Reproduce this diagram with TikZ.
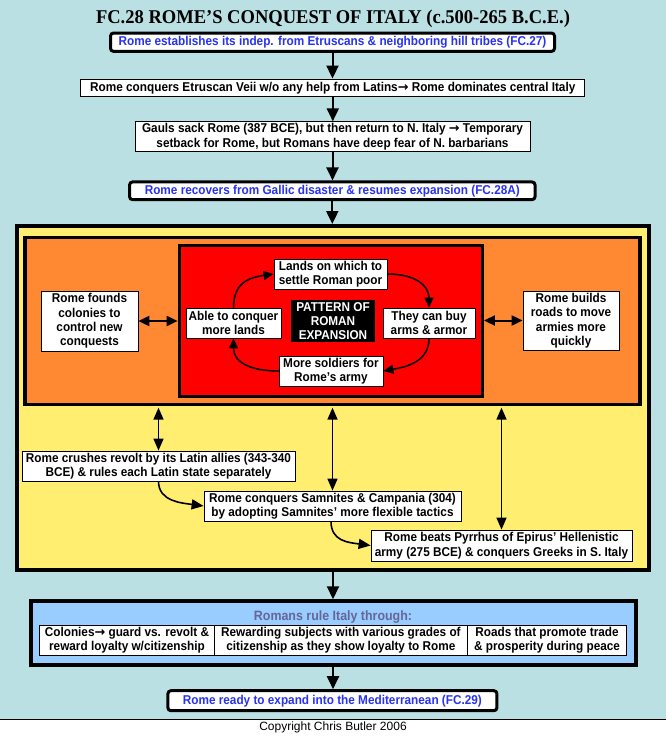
\documentclass[tikz,border=0pt]{standalone}
\usepackage{fontspec}
\setmainfont{Liberation Sans}[FakeStretch=0.92]
\newfontfamily\plainfont{Liberation Sans}
\newfontfamily\titlefont{Liberation Serif}[FakeStretch=0.95]
\newfontfamily\arrfont{DejaVu Sans}
\newcommand{\rarrow}{{\arrfont\bfseries →}}
\usetikzlibrary{arrows.meta}
\definecolor{bgblue}{RGB}{186,224,227}
\definecolor{yel}{RGB}{255,238,112}
\definecolor{ora}{RGB}{255,136,51}
\definecolor{lblue}{RGB}{153,204,255}
\definecolor{txtblue}{RGB}{40,50,240}
\definecolor{purp}{RGB}{102,102,150}
\begin{document}
\begin{tikzpicture}[x=1pt,y=-1pt,
  every node/.style={font=\fontsize{12.8}{14.4}\selectfont\bfseries, align=center, inner sep=0pt},
  plainbox/.style={draw, fill=white, line width=0.8pt},
  roundbox/.style={draw, fill=white, line width=3pt, rounded corners=3pt, text=txtblue},
  frame/.style={draw, line width=3.3pt},
  bigarrow/.style={line width=2pt, -{Triangle[length=13pt,width=12pt]}},
  dblarrow/.style={line width=1.6pt, {Triangle[length=12pt,width=10pt]}-{Triangle[length=12pt,width=10pt]}},
  sidearrow/.style={line width=2pt, {Triangle[length=11pt,width=10pt]}-{Triangle[length=11pt,width=10pt]}},
  cycarrow/.style={line width=1.5pt, -{Triangle[length=10pt,width=9pt]}},
  curvarrow/.style={line width=1.6pt, -{Triangle[length=12pt,width=10pt]}}
]
\useasboundingbox (0,0) rectangle (666,736);
\fill[white] (0,0) rectangle (666,736);
\fill[bgblue] (0,0) rectangle (666,719);
\draw[line width=1pt] (0,719) -- (666,719);

% title
\node[font=\fontsize{19.5}{20}\titlefont\bfseries, anchor=base] (title) at (333,23.5) {FC.28 ROME’S CONQUEST OF ITALY (c.500-265 B.C.E.)};

% top chain
\node[roundbox, minimum width=444pt, minimum height=18.3pt] (b1) at (332.5,42.2) {Rome establishes its indep. from Etruscans \& neighboring hill tribes (FC.27)};
\node[plainbox, minimum width=504pt, minimum height=17.7pt] (b2) at (332.8,87.8) {Rome conquers Etruscan Veii w/o any help from Latins\rarrow{} Rome dominates central Italy};
\node[plainbox, minimum width=395pt, minimum height=30pt] (b3) at (332.5,136.7) {Gauls sack Rome (387 BCE), but then return to N. Italy \rarrow{} Temporary\\ setback for Rome, but Romans have deep fear of N. barbarians};
\node[roundbox, minimum width=405.5pt, minimum height=17.7pt] (b4) at (332.3,190.8) {Rome recovers from Gallic disaster \& resumes expansion (FC.28A)};

% frames
\node[draw, line width=4pt, fill=yel, minimum width=632pt, minimum height=344pt] (yellow) at (333,398) {};
\node[frame, fill=ora, minimum width=615pt, minimum height=167pt] (orange) at (332.5,321) {};
\node[frame, fill=red, minimum width=303pt, minimum height=150.6pt] (red) at (330.8,321) {};

% cycle
\node[plainbox, minimum width=113pt, minimum height=30pt] (lands) at (330.5,274) {Lands on which to\\ settle Roman poor};
\node[plainbox, minimum width=92pt, minimum height=30pt] (they) at (429,323) {They can buy\\ arms \& armor};
\node[plainbox, minimum width=104pt, minimum height=30pt] (more) at (331,371) {More soldiers for\\ Rome’s army};
\node[plainbox, minimum width=95pt, minimum height=30pt] (able) at (233.5,323) {Able to conquer\\ more lands};
\node[fill=black, text=white, minimum width=84pt, minimum height=42pt] (pattern) at (333,321) {PATTERN OF\\ ROMAN\\ EXPANSION};

\draw[cycarrow] (able.north) .. controls +(0,-28) and +(-20,3) .. (lands.west);
\draw[cycarrow] (lands.east) .. controls +(28,0) and +(0,-22) .. (they.north);
\draw[cycarrow] (they.south) .. controls +(0,24) and +(22,-4) .. (more.east);
\draw[cycarrow] (more.west) .. controls +(-28,0) and +(0,24) .. (able.south);

% side boxes
\node[plainbox, minimum width=97pt, minimum height=60pt] (colonies) at (89.5,321) {Rome founds\\ colonies to\\ control new\\ conquests};
\node[plainbox, minimum width=96pt, minimum height=59pt] (roads) at (571,320.5) {Rome builds\\ roads to move\\ armies more\\ quickly};
\draw[sidearrow] (colonies.east) -- (colonies.east -| red.west);
\draw[sidearrow] (roads.west -| red.east) -- (roads.west);

% lower yellow boxes
\node[plainbox, minimum width=273pt, minimum height=30pt] (latin) at (158.5,466) {Rome crushes revolt by its Latin allies (343-340\\ BCE) \& rules each Latin state separately};
\node[plainbox, minimum width=257pt, minimum height=30pt] (samn) at (332.5,506) {Rome conquers Samnites \& Campania (304)\\ by adopting Samnites’ more flexible tactics};
\node[plainbox, minimum width=261pt, minimum height=31pt] (pyrr) at (501.5,545.5) {Rome beats Pyrrhus of Epirus’ Hellenistic\\ army (275 BCE) \& conquers Greeks in S. Italy};

\draw[dblarrow, shorten <=1.5pt] (latin.north |- orange.south) -- (latin.north);
\draw[dblarrow, shorten <=1.5pt] (samn.north |- orange.south) -- (samn.north);
\draw[dblarrow, shorten <=1.5pt] (pyrr.north |- orange.south) -- (pyrr.north);
\draw[curvarrow] (latin.south) .. controls +(0,20) and +(-22,-3) .. (samn.west);
\draw[curvarrow] ([xshift=-1.5pt]samn.south) .. controls +(0,20) and +(-22,-3) .. (pyrr.west);

% top arrows
\draw[bigarrow] (b1.south) -- (b1.south |- b2.north);
\draw[bigarrow] (b2.south) -- (b2.south |- b3.north);
\draw[bigarrow] (b3.south) -- (b3.south |- b4.north);
\draw[bigarrow] (b4.south) -- (b4.south |- yellow.north);

% bottom
\node[draw, line width=3.5pt, fill=lblue, minimum width=605pt, minimum height=64pt] (blue) at (333.5,633) {};
\node[text=purp, font=\fontsize{13.5}{15}\selectfont\bfseries] (rule) at (333,617.5) {Romans rule Italy through:};
\node[plainbox, minimum width=175pt, minimum height=30.7pt] (c1) at (127,640.3) {Colonies\rarrow{} guard vs. revolt \&\\ reward loyalty w/citizenship};
\node[plainbox, minimum width=252.8pt, minimum height=30.7pt] (c2) at (340.9,640.3) {Rewarding subjects with various grades of\\ citizenship as they show loyalty to Rome};
\node[plainbox, minimum width=159.3pt, minimum height=30.7pt] (c3) at (547,640.3) {Roads that promote trade\\ \& prosperity during peace};
\node[roundbox, minimum width=329pt, minimum height=20pt] (final) at (332.4,700.7) {Rome ready to expand into the Mediterranean (FC.29)};

\draw[bigarrow] (yellow.south) -- (yellow.south |- blue.north);
\draw[bigarrow] (blue.south -| yellow.south) -- (yellow.south |- final.north);

\node[font=\fontsize{12}{14}\plainfont] (copy) at (333,727.5) {Copyright Chris Butler 2006};
\end{tikzpicture}
\end{document}
